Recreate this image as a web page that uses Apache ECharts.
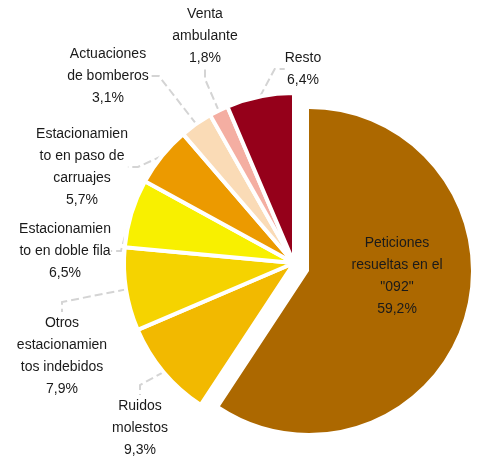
<!DOCTYPE html>
<html>
<head>
<meta charset="utf-8">
<script src="https://cdn.jsdelivr.net/npm/echarts@6/dist/echarts.min.js"></script>
<style>
  html, body { margin: 0; padding: 0; background: #fff; }
  #chart { width: 477px; height: 459px; }
</style>
</head>
<body>
<div id="chart"></div>
<script>
const categories = [
  'Peticiones\nresueltas en el\n"092"',
  'Ruidos\nmolestos',
  'Otros\nestacionamien\ntos indebidos',
  'Estacionamien\nto en doble fila',
  'Estacionamien\nto en paso de\ncarruajes',
  'Actuaciones\nde bomberos',
  'Venta\nambulante',
  'Resto'
]
const values = [59.2, 9.3, 7.9, 6.5, 5.7, 3.1, 1.8, 6.4]
const colors = ['#AC6800', '#F2B900', '#F5D300', '#F8F000', '#EC9A00', '#FADBB6', '#F4AEA2', '#95001A']

// label block centres, in pixels
const labelPos = [
  [397, 276], [140, 428], [62, 356], [65, 251],
  [82, 167], [108, 76], [205, 36], [303, 69]
]

const chart = echarts.init(document.getElementById('chart'))

const fmt = v => v.toFixed(1).replace('.', ',') + '%'

// the exploded big slice is drawn by its own series; the rest by a second one
const bigOnly = (name, i) => ({
  name: name,
  value: values[i],
  itemStyle: {color: i === 0 ? colors[i] : 'transparent'}
})

const smallOnly = (name, i) => ({
  name: name,
  value: values[i],
  itemStyle: {
    color: i === 0 ? 'transparent' : colors[i],
    borderColor: i === 0 ? 'transparent' : '#fff'
  },
  labelLine: i === 0 ? {lineStyle: {color: 'transparent'}} : undefined
})

chart.setOption({
  animation: false,
  textStyle: {fontFamily: 'Liberation Sans, Arial, sans-serif'},
  series: [{
    type: 'pie',
    center: [309, 271],
    radius: 162,
    startAngle: 90,
    clockwise: true,
    silent: true,
    label: {show: false},
    labelLine: {show: false},
    emphasis: {disabled: true},
    data: categories.map(bigOnly)
  }, {
    type: 'pie',
    center: [294, 263],
    radius: 170,
    startAngle: 90,
    clockwise: true,
    silent: true,
    avoidLabelOverlap: false,
    itemStyle: {borderColor: '#fff', borderWidth: 4},
    label: {
      color: '#1a1a1a',
      fontSize: 14,
      lineHeight: 22,
      align: 'center',
      formatter: p => p.name + '\n' + fmt(p.value)
    },
    labelLine: {
      show: true,
      length: 12,
      length2: 10,
      lineStyle: {color: '#D4D4D4', type: 'dashed', width: 2}
    },
    labelLayout: p => {
      const q = labelPos[p.dataIndex]
      return {x: q[0], y: q[1], align: 'center', verticalAlign: 'middle'}
    },
    emphasis: {disabled: true},
    data: categories.map(smallOnly)
  }]
})
</script>
</body>
</html>
